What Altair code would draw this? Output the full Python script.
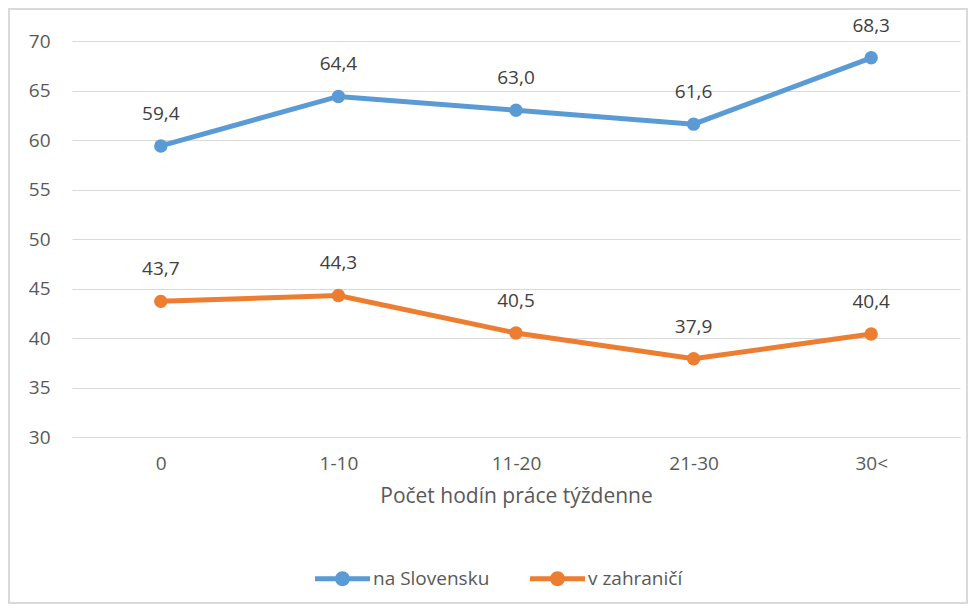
import altair as alt
import pandas as pd

categories = ["0", "1-10", "11-20", "21-30", "30<"]
na_slovensku = [59.4, 64.4, 63.0, 61.6, 68.3]
v_zahranici = [43.7, 44.3, 40.5, 37.9, 40.4]
series_names = ["na Slovensku", "v zahraničí"]
colors = ["#5B9BD5", "#ED7D31"]

rows = []
for name, vals in zip(series_names, [na_slovensku, v_zahranici]):
    for c, v in zip(categories, vals):
        rows.append({"cat": c, "val": v, "series": name,
                     "label": f"{v:.1f}".replace(".", ",")})
df = pd.DataFrame(rows)

FONT = "Open Sans"
TXT = "#595959"

legend_path = ("M-1,-0.09 L1,-0.09 L1,0.09 L-1,0.09 Z "
               "M-0.27,0 A0.27,0.27 0 1,1 0.27,0 A0.27,0.27 0 1,1 -0.27,0 Z")

x = alt.X("cat:N", sort=categories, title="Počet hodín práce týždenne",
          scale=alt.Scale(type="point", padding=0.5),
          axis=alt.Axis(labelAngle=0, ticks=False, domain=True, domainColor="#D9D9D9",
                        grid=False,
                        labelFont=FONT, labelFontSize=19, labelColor=TXT, labelPadding=17,
                        titleFont=FONT, titleFontSize=21, titleFontWeight="normal",
                        titleColor=TXT, titlePadding=12))
y = alt.Y("val:Q", title=None,
          scale=alt.Scale(domain=[30, 70], nice=False, zero=False),
          axis=alt.Axis(values=list(range(30, 71, 5)), ticks=False, domain=False,
                        gridColor="#D9D9D9", gridWidth=1,
                        labelFont=FONT, labelFontSize=19, labelColor=TXT, labelPadding=22))
color = alt.Color("series:N", scale=alt.Scale(domain=series_names, range=colors),
                  legend=alt.Legend(orient="none", legendX=243, legendY=510, direction="horizontal",
                                    title=None, symbolType=legend_path, symbolSize=3025,
                                    symbolStrokeWidth=0, labelFont=FONT, labelFontSize=19,
                                    labelColor=TXT, columnPadding=40, labelOffset=3))

base = alt.Chart(df).encode(x=x, y=y)
line = base.mark_line(strokeWidth=5).encode(color=color)
pts = base.mark_point(filled=True, size=180, opacity=1).encode(color=color)
labels = base.mark_text(dy=-32, font=FONT, fontSize=19, color="#404040").encode(text="label:N")

frame = alt.Chart(df).mark_rect(fill="transparent", stroke="#D9D9D9", strokeWidth=1.5).encode(
    x=alt.value(-63.25), x2=alt.value(895.25), y=alt.value(-32.25), y2=alt.value(562.25))

chart = alt.layer(frame, line, pts, labels).properties(
    width=888, height=396,
    background="white",
    autosize=alt.AutoSizeParams(type="none"),
    padding={"left": 64, "top": 33, "right": 8, "bottom": 167},
).configure_view(stroke=None)

chart.save("out.html", embed_options={"renderer": "svg", "actions": False})
